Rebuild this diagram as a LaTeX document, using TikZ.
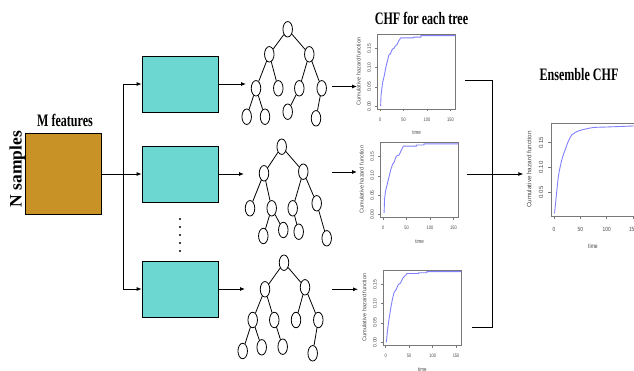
\documentclass[tikz,border=0pt]{standalone}
\usepackage{fontspec}
\usepackage{graphicx}
\setmainfont{Liberation Serif}
\newfontfamily\plotfont{Liberation Sans}
\usetikzlibrary{shapes.geometric,arrows.meta}
\definecolor{brownfill}{RGB}{201,146,38}
\definecolor{tealfill}{RGB}{108,214,208}
\definecolor{curveblue}{RGB}{128,128,255}
\definecolor{axisgray}{RGB}{120,120,120}
\definecolor{labelgray}{RGB}{70,70,70}
\newcommand{\sqx}[1]{\scalebox{0.69}[1]{#1}}
\newcommand{\psqx}[1]{\scalebox{0.8}[1]{#1}}

\tikzset{
  conn/.style={draw=black,line width=0.8pt},
  arr/.style={conn,-{Latex[length=5pt,width=4pt]}},
  tnode/.style={ellipse,draw=black,line width=0.8pt,minimum width=9.5pt,minimum height=15.5pt,inner sep=0pt},
  tedge/.style={draw=black,line width=0.8pt},
  titletext/.style={font=\bfseries\fontsize{17.5}{19}\selectfont,inner sep=0pt},
  tealbox/.style={rectangle,draw=black,line width=0.8pt,fill=tealfill,minimum width=76pt,minimum height=56pt,inner sep=0pt},
  axline/.style={draw=axisgray,line width=0.5pt},
  ticklbl/.style={font=\plotfont\fontsize{5}{6}\selectfont,text=labelgray,inner sep=0pt},
  axlbl/.style={font=\plotfont\fontsize{5.6}{6.5}\selectfont,text=labelgray,inner sep=0pt},
  eticklbl/.style={font=\plotfont\fontsize{6}{7}\selectfont,text=labelgray,inner sep=0pt},
  eaxlbl/.style={font=\plotfont\fontsize{6.3}{7.5}\selectfont,text=labelgray,inner sep=0pt},
  curve/.style={draw=curveblue,line width=0.9pt,line join=round}
}

% small CHF plot: #1 box left, #2 box bottom (pixel coords), #3 curve data
\newcommand{\smallchf}[3]{%
\begin{scope}[shift={(#1+2.44,#2-2.78)},x=0.469pt,y=386pt]
  \draw[axline] (-5.2,-0.0072) rectangle (161.2,0.1872);
  \foreach \tt in {0,50,100,150} {
    \draw[axline] (\tt,-0.0072) -- ++(0,-2.5pt);
    \node[ticklbl] at ([yshift=-10.5pt]\tt,-0.0072) {\psqx{\tt}};
  }
  \foreach \vv/\lab in {0/0.00,0.05/0.05,0.1/0.10,0.15/0.15} {
    \draw[axline] (-5.2,\vv) -- ++(-2.5pt,0);
    \node[ticklbl,rotate=90] at ([xshift=-8.5pt]-5.2,\vv) {\lab};
  }
  \node[axlbl,rotate=90] at ([xshift=-19pt]-5.2,0.09) {Cumulative hazard function};
  \node[axlbl] at ([yshift=-24pt]78,-0.0072) {\psqx{time}};
  \draw[curve] plot coordinates {#3};
\end{scope}}

\begin{document}
\begin{tikzpicture}[x=1pt,y=-1pt]
\useasboundingbox (0,0) rectangle (634,371);
\clip (0,0) rectangle (634,371);

% titles
\node[titletext] (ttrees) at (421.5,18) {\sqx{CHF for each tree}};
\node[titletext] (tens) at (579,75) {\sqx{Ensemble CHF}};
\node[titletext] (tmf) at (65,120) {\sqx{M features}};
\node[titletext,rotate=90] (tns) at (17.5,169) {N samples};

% data box
\node[rectangle,draw=black,line width=0.8pt,fill=brownfill,minimum width=76pt,minimum height=81pt,inner sep=0pt] (data) at (63,173.5) {};

% bootstrap boxes
\node[tealbox] (s1) at (180,84) {};
\node[tealbox] (s2) at (180,174) {};
\node[tealbox] (s3) at (180,289) {};
\foreach \yy in {219,227,235,243,251} \fill (180,\yy) circle (1.2);

% split connectors
\coordinate (jm) at (123.3,174);
\coordinate (jt) at (123.3,84);
\coordinate (jb) at (123.3,289);
\draw[conn] (data.east |- jm) -- (jm);
\draw[conn] (jt) -- (jb);
\draw[arr] (jt) -- (s1.west);
\draw[arr] (jm) -- (s2.west);
\draw[arr] (jb) -- (s3.west);

% tree 1
\node[tnode] (a0) at (287.7,29.3) {};
\node[tnode] (a1) at (269.3,54.3) {};
\node[tnode] (a2) at (309.3,54.3) {};
\node[tnode] (a3) at (256,88.3) {};
\node[tnode] (a4) at (278.3,88.3) {};
\node[tnode] (a5) at (299.3,88.3) {};
\node[tnode] (a6) at (321.7,88.3) {};
\node[tnode] (a7) at (246.7,116.7) {};
\node[tnode] (a8) at (265,116.7) {};
\node[tnode] (a9) at (287.7,111.7) {};
\node[tnode] (a10) at (316,118.3) {};
\foreach \p/\c in {a0/a1,a0/a2,a1/a3,a1/a4,a2/a5,a2/a6,a3/a7,a3/a8,a5/a9,a6/a10}
  \draw[tedge] (\p) -- (\c);

% tree 2
\node[tnode] (b0) at (281.7,146.7) {};
\node[tnode] (b1) at (264,173.3) {};
\node[tnode] (b2) at (303.3,171.7) {};
\node[tnode] (b3) at (250,208.3) {};
\node[tnode] (b4) at (271.7,208.3) {};
\node[tnode] (b5) at (292.7,208.3) {};
\node[tnode] (b6) at (316.7,203.3) {};
\node[tnode] (b7) at (263.3,236) {};
\node[tnode] (b8) at (283.3,230) {};
\node[tnode] (b9) at (298.7,231.7) {};
\node[tnode] (b10) at (326.7,238.3) {};
\foreach \p/\c in {b0/b1,b0/b2,b1/b3,b1/b4,b2/b5,b2/b6,b4/b7,b4/b8,b5/b9,b6/b10}
  \draw[tedge] (\p) -- (\c);

% tree 3
\node[tnode] (c0) at (284,262.7) {};
\node[tnode] (c1) at (265,289.3) {};
\node[tnode] (c2) at (305,287.3) {};
\node[tnode] (c3) at (252.7,320) {};
\node[tnode] (c4) at (274.3,320) {};
\node[tnode] (c5) at (296,320) {};
\node[tnode] (c6) at (318.3,320) {};
\node[tnode] (c7) at (242.7,351) {};
\node[tnode] (c8) at (261.7,347.3) {};
\node[tnode] (c9) at (282.7,346.7) {};
\node[tnode] (c10) at (312.7,353.3) {};
\foreach \p/\c in {c0/c1,c0/c2,c1/c3,c1/c4,c2/c5,c2/c6,c3/c7,c3/c8,c4/c9,c6/c10}
  \draw[tedge] (\p) -- (\c);

% box -> tree arrows
\coordinate (t1in) at (246,84);
\coordinate (t2in) at (244,174);
\coordinate (t3in) at (245,289);
\draw[arr] (s1.east) -- (t1in);
\draw[arr] (s2.east) -- (t2in);
\draw[arr] (s3.east) -- (t3in);

% tree -> plot arrows
\coordinate (t1out) at (331.7,86.5);
\coordinate (t2out) at (331.7,172);
\coordinate (t3out) at (331.7,289.3);
\coordinate (p1in) at (357,86.5);
\coordinate (p2in) at (357,172);
\coordinate (p3in) at (358,289.3);
\draw[arr] (t1out) -- (p1in);
\draw[arr] (t2out) -- (p2in);
\draw[arr] (t3out) -- (p3in);

% per-tree CHF plots
\smallchf{377.7}{109}{(1,0) (2,0.03) (4,0.05) (6,0.065) (9,0.08) (12,0.1) (15,0.115) (18,0.13) (20,0.135) (22,0.135) (23,0.14) (25,0.145) (28,0.15) (30,0.15) (32,0.155) (36,0.16) (40,0.17) (44,0.177) (71,0.177) (71,0.179) (87,0.179) (87,0.183) (160,0.183)}
\smallchf{380.7}{217.3}{(2,0.004) (3,0.04) (5,0.06) (8,0.075) (11,0.09) (13,0.1) (16,0.115) (20,0.13) (22,0.133) (24,0.137) (26,0.146) (29,0.152) (34,0.154) (37,0.162) (43,0.177) (71,0.177) (71,0.18) (87,0.18) (87,0.183) (160,0.183)}
\smallchf{383.3}{345}{(1.4,0) (3.5,0.028) (7,0.06) (10.5,0.087) (14,0.11) (17.5,0.128) (20,0.133) (22.4,0.137) (26.6,0.149) (29,0.151) (31.5,0.153) (36.4,0.166) (45.5,0.178) (70,0.178) (70,0.18) (87.6,0.18) (87.6,0.183) (160,0.183)}

% plots -> ensemble connectors
\coordinate (p1out) at (465,80.7);
\coordinate (p2out) at (466.7,174);
\coordinate (p3out) at (471.7,327.3);
\coordinate (jtop) at (492.3,80.7);
\coordinate (jbot) at (492.3,327.3);
\coordinate (ensin) at (523.3,174);
\draw[conn] (p1out) -- (jtop) -- (jbot) -- (p3out);
\draw[arr] (p2out) -- (ensin);

% ensemble CHF plot
\begin{scope}[shift={(554,217.5)},x=0.527pt,y=500pt]
  \draw[axline] (-5.7,0.003) rectangle (161,0.1884);
  \foreach \tt in {0,50,100,150} {
    \draw[axline] (\tt,0.003) -- ++(0,-3pt);
    \node[eticklbl] at ([yshift=-13.3pt]\tt,0.003) {\psqx{\tt}};
  }
  \foreach \vv/\lab in {0.05/0.05,0.1/0.10,0.15/0.15} {
    \draw[axline] (-5.7,\vv) -- ++(-3pt,0);
    \node[eticklbl,rotate=90] at ([xshift=-10pt]-5.7,\vv) {\lab};
  }
  \node[eaxlbl,rotate=90] at ([xshift=-22pt]-5.7,0.0957) {Cumulative hazard function};
  \node[eaxlbl] at ([yshift=-30.7pt]74,0.003) {\psqx{time}};
  \draw[curve] plot[smooth,tension=0.5] coordinates {(1,0.008) (5,0.05) (8,0.08) (11.4,0.10) (16,0.12) (21,0.135) (27,0.152) (33.6,0.165) (40,0.17) (49,0.174) (60,0.177) (74.6,0.18) (100,0.181) (150,0.183) (165,0.1835)};
\end{scope}
\end{tikzpicture}
\end{document}
